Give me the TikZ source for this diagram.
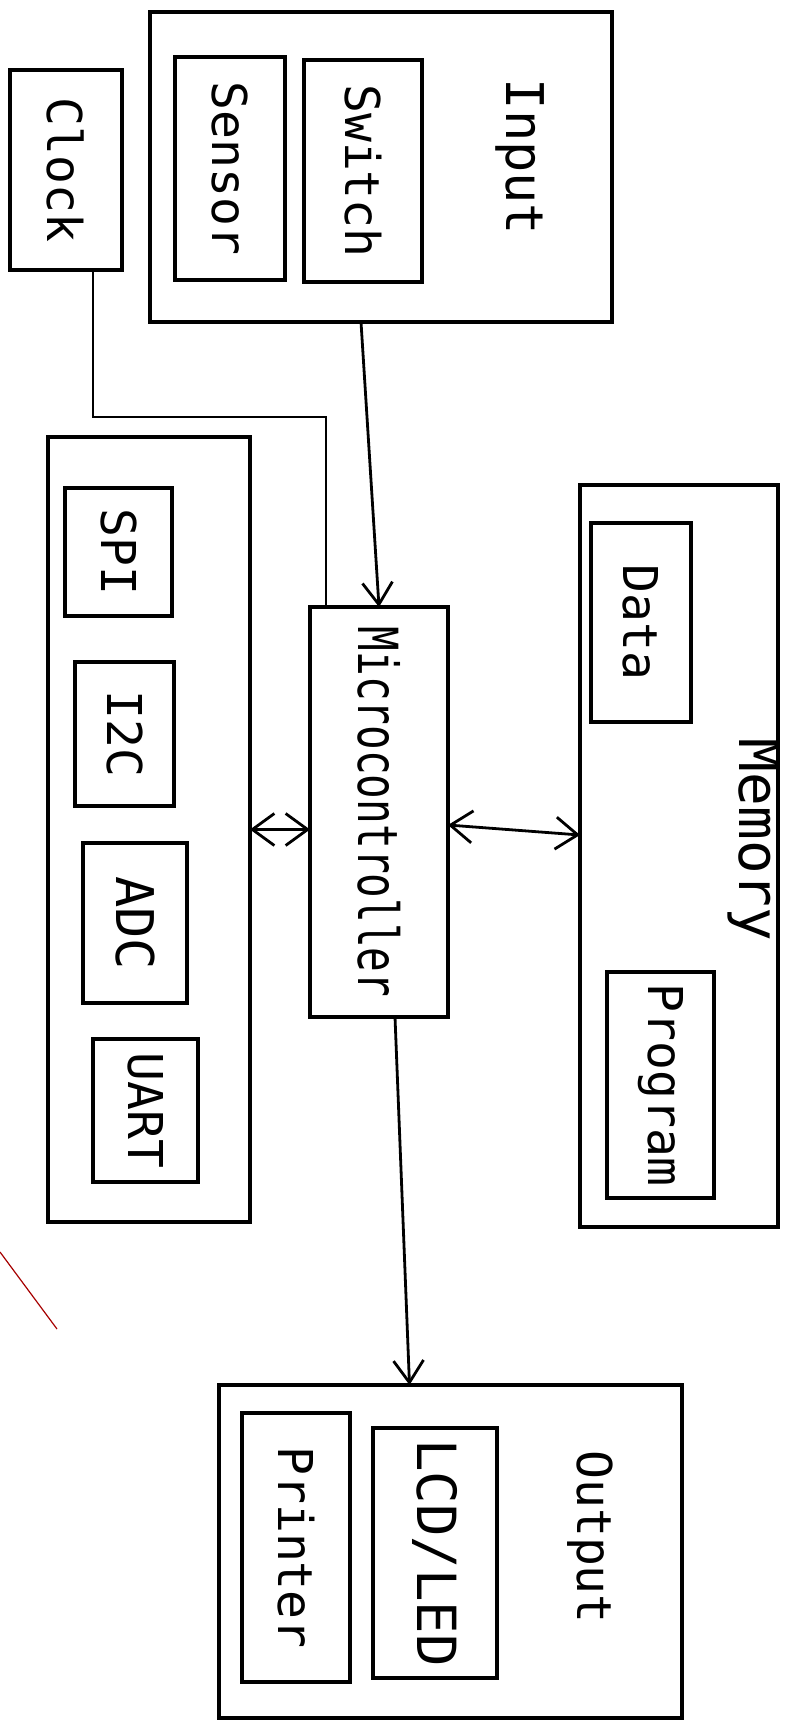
\documentclass[tikz,border=0pt]{standalone}
\usepackage{fontspec}
\usepackage{tikz}
\usetikzlibrary{arrows.meta,fit}
\newfontfamily\handfont{DejaVu Sans Mono}
\newcommand{\vtxt}[1]{\rotatebox{-90}{#1}}
\newcommand{\fs}[1]{\fontsize{#1}{#1}\selectfont}

\begin{document}
\begin{tikzpicture}[
    x=1pt, y=-1pt,
    font=\handfont\fs{48},
    box/.style={draw, line width=3.2pt, inner sep=0pt, outer sep=0pt},
    tag/.style={rotate=-90, inner sep=0pt},
    wire/.style={line width=2.8pt},
    arr/.style={wire, -{Straight Barb[length=22pt, width=30pt]}},
    dbl/.style={wire, {Straight Barb[length=22pt, width=32pt]}-{Straight Barb[length=22pt, width=32pt]}}
  ]
  \useasboundingbox (0,0) rectangle (802,1722);

  % input group and clock
  \node[box, fit={(150,12) (612,322)}] (inp) {};
  \node[tag] (inp-t) at (520,157) {\fs{52}Input};
  \node[box, fit={(175,57) (285,280)}] (sens) {\vtxt{Sensor}};
  \node[box, fit={(304,60) (422,282)}] (swit) {\vtxt{Switch}};
  \node[box, fit={(10,70) (122,270)}] (clk) {\vtxt{Clock}};

  % microcontroller
  \node[box, fit={(310,607) (448,1017)}] (mcu)
    {\vtxt{\scalebox{1}[1.35]{\fs{41}Microcontroller}}};

  % peripherals
  \node[box, fit={(48,437) (250,1222)}] (periph) {};
  \node[box, fit={(65,488) (172,616)}] (spi) {\vtxt{SPI}};
  \node[box, fit={(75,662) (174,806)}] (iic) {\vtxt{I2C}};
  \node[box, fit={(83,843) (187,1003)}] (adc) {\vtxt{\fs{52}ADC}};
  \node[box, fit={(93,1039) (198,1182)}] (uart) {\vtxt{UART}};

  % memory
  \node[box, fit={(580,485) (778,1227)}] (mem) {};
  \node[tag] (mem-t) at (754,840) {\fs{56}Memory};
  \node[box, fit={(591,523) (691,722)}] (data) {\vtxt{Data}};
  \node[box, fit={(607,972) (714,1198)}] (prog) {\vtxt{Program}};

  % output
  \node[box, fit={(219,1385) (682,1718)}] (out) {};
  \node[tag] (out-t) at (590,1537) {Output};
  \node[box, fit={(373,1428) (497,1678)}] (lcd) {\vtxt{\fs{54}LCD/LED}};
  \node[box, fit={(242,1413) (350,1682)}] (prn) {\vtxt{Printer}};

  % connections
  \coordinate (clkbend) at (326,417);
  \draw[wire] ([xshift=27pt]clk.south) |- (clkbend) -- (clkbend |- mcu.north);
  \draw[arr] ([xshift=-20pt]inp.south) -- (mcu.north);
  \draw[dbl] (periph.east) -- (periph.east -| mcu.west);
  \draw[dbl] ([yshift=-13pt]mcu.east) -- ([yshift=21pt]mem.west);
  \draw[arr] ([xshift=16pt]mcu.south) -- ([xshift=-41pt]out.north);

  % stray pen mark
  \draw[red!65!black, line width=1.2pt] (0,1252) -- (57,1329);
\end{tikzpicture}
\end{document}
